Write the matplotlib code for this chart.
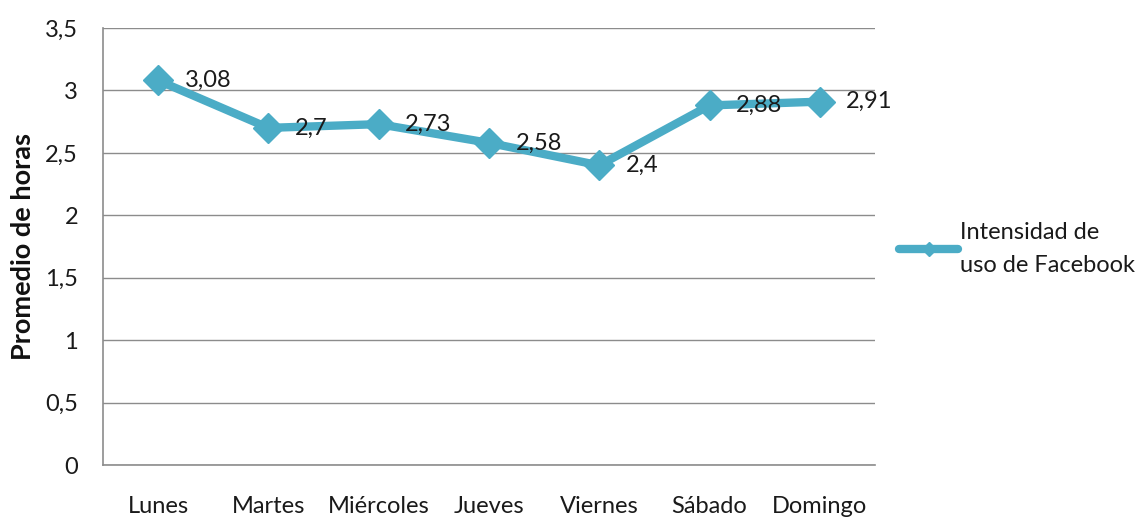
import matplotlib
matplotlib.use("Agg")
import matplotlib.pyplot as plt
from matplotlib.lines import Line2D

plt.rcParams['font.family'] = ['Lato', 'DejaVu Sans']

dias = ["Lunes", "Martes", "Miércoles", "Jueves", "Viernes", "Sábado", "Domingo"]
valores = [3.08, 2.7, 2.73, 2.58, 2.4, 2.88, 2.91]
etiquetas = ["3,08", "2,7", "2,73", "2,58", "2,4", "2,88", "2,91"]
yticks = [0, 0.5, 1, 1.5, 2, 2.5, 3, 3.5]
ytick_labels = ["0", "0,5", "1", "1,5", "2", "2,5", "3", "3,5"]
serie = "Intensidad de\nuso de Facebook"

color = '#4BACC6'
txt = '#1a1a1a'
fig = plt.figure(figsize=(11.42, 5.2), dpi=100)
ax = fig.add_axes([103/1142, 1 - 465/520, (875-103)/1142, (465-28)/520])

x = list(range(len(dias)))
ax.plot(x, valores, color=color, lw=6, marker='D', markersize=15,
        markeredgecolor=color, solid_joinstyle='round', solid_capstyle='round', zorder=3)
for xi, v, t in zip(x, valores, etiquetas):
    ax.annotate(t, (xi, v), xytext=(19, 0), textcoords='offset points',
                ha='left', va='center', fontsize=17, color=txt, zorder=4)

ax.set_xlim(-0.5, 6.5)
ax.set_ylim(0, 3.5)
ax.set_yticks(yticks)
ax.set_yticklabels(ytick_labels)
ax.set_xticks(x)
ax.set_xticklabels(dias)
ax.tick_params(axis='both', length=0, labelsize=17, colors=txt)
ax.tick_params(axis='y', pad=18)
ax.tick_params(axis='x', pad=22)
ax.grid(axis='y', color='#8c8c8c', lw=1)
ax.set_axisbelow(True)
for s in ['top', 'right']:
    ax.spines[s].set_visible(False)
for s in ['left', 'bottom']:
    ax.spines[s].set_color('#8c8c8c')
    ax.spines[s].set_linewidth(1.2)

ax.set_ylabel("Promedio de horas", fontsize=19.5, fontweight='bold', color='#111111')
ax.yaxis.set_label_coords((35 - 103) / (875 - 103), 0.5)

handle = Line2D([0], [0], color=color, lw=6, marker='D', markersize=7,
                solid_capstyle='round')
leg = fig.legend([handle], [serie], loc='center left', bbox_to_anchor=(890/1142, 1 - 249/520),
                 frameon=False, fontsize=17, handlelength=2.5, handletextpad=0.05,
                 borderaxespad=0)
for t in leg.get_texts():
    t.set_color(txt)
    t.set_linespacing(1.7)

fig.savefig("out.png", dpi=100)
